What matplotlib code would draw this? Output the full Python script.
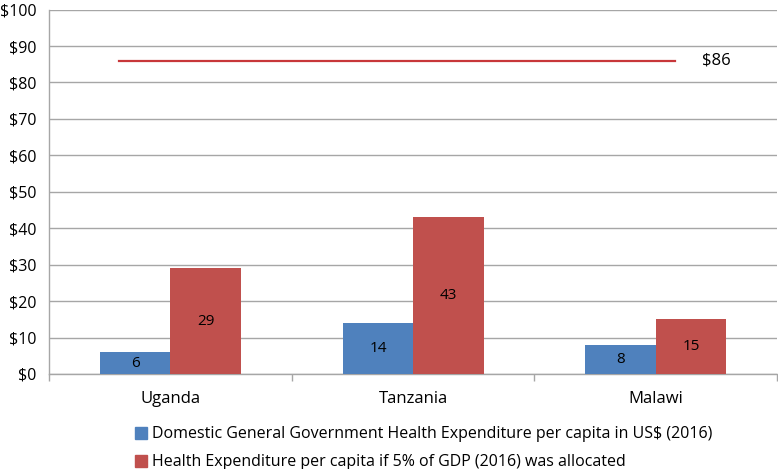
import matplotlib
matplotlib.use("Agg")
import matplotlib.pyplot as plt
from matplotlib.patches import Patch
import numpy as np

plt.rcParams['font.family'] = ['Open Sans', 'DejaVu Sans']

categories = ["Uganda", "Tanzania", "Malawi"]
domestic = [6, 14, 8]
five_pct = [29, 43, 15]
target_value = 86
target_label = "$86"
yticks = list(range(0, 101, 10))
ytick_labels = [f"${v}" for v in yticks]
legend_labels = ["Domestic General Government Health Expenditure per capita in US$ (2016)",
                 "Health Expenditure per capita if 5% of GDP (2016) was allocated"]

blue = "#4F81BD"
red = "#C0504D"
grid_c = "#A6A6A6"

fig = plt.figure(figsize=(7.78, 4.69), dpi=100)
ax = fig.add_axes([0.063, 0.2026, 0.936, 0.777])

x = np.arange(len(categories))
w = 0.29
b1 = ax.bar(x - w/2, domestic, w, color=blue, zorder=3)
b2 = ax.bar(x + w/2, five_pct, w, color=red, zorder=3)
for bars, vals in ((b1, domestic), (b2, five_pct)):
    for rect, v in zip(bars, vals):
        ax.text(rect.get_x() + rect.get_width()/2, v/2, str(v),
                ha='center', va='center', fontsize=11, color='black', zorder=4)

ax.plot([-0.21, 2.08], [target_value, target_value], color="#C8373A", lw=1.6, zorder=4)
ax.text(2.25, target_value, target_label, ha='center', va='center', fontsize=12)

ax.set_xlim(-0.5, 2.5)
ax.set_ylim(0, 100)
ax.set_yticks(yticks)
ax.set_yticklabels(ytick_labels, fontsize=11.5)
ax.set_xticks(x)
ax.set_xticklabels(categories, fontsize=12)
ax.tick_params(axis='x', which='major', length=0, pad=12)
ax.set_xticks([-0.5, 0.5, 1.5, 2.5], minor=True)
ax.tick_params(axis='x', which='minor', length=5, color=grid_c, width=1)
ax.tick_params(axis='y', length=0, pad=9)
ax.yaxis.grid(True, color=grid_c, lw=1, zorder=0)
for s in ('top', 'right'):
    ax.spines[s].set_visible(False)
ax.spines['left'].set_color(grid_c)
ax.spines['bottom'].set_color(grid_c)
ax.spines['left'].set_linewidth(1)
ax.spines['bottom'].set_linewidth(1)

handles = [Patch(color=blue), Patch(color=red)]
fig.legend(handles, legend_labels, loc='upper left', bbox_to_anchor=(0.163, 0.108),
           frameon=False, fontsize=11.5, handlelength=0.75, handleheight=0.75,
           handletextpad=0.35, labelspacing=0.75, borderpad=0)

fig.savefig("out.png", dpi=100)
